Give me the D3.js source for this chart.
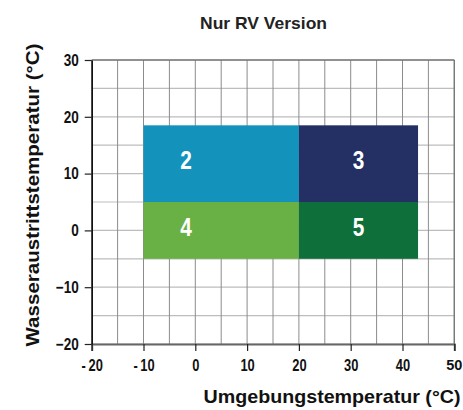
<!DOCTYPE html>
<html>
<head>
<meta charset="utf-8">
<script src="https://cdn.jsdelivr.net/npm/d3@7"></script>
<style>
  body { margin: 0; background: #fff; }
  text { font-family: "Liberation Sans", Arial, sans-serif; }
</style>
</head>
<body>
<div id="chart"></div>
<script>
var width = 463, height = 410;

// zones: x range, y range (°C)
var zoneLabels = ["2", "3", "4", "5"];
var zoneX0 = [-10, 20, -10, 20];
var zoneX1 = [20, 43, 20, 43];
var zoneY0 = [5, 5, -5, -5];
var zoneY1 = [18.5, 18.5, 5, 5];
var zoneColors = ["#1393bb", "#243063", "#69b045", "#0f6f3a"];
// where the zone numbers sit (°C)
var labelX = [-1.8, 31.5, -1.8, 31.5];
var labelY = [12.5, 12.5, 0.7, 0.7];

var xTicks = [-20, -10, 0, 10, 20, 30, 40, 50];
var yTicks = [-20, -10, 0, 10, 20, 30];
var xGrid = d3.range(-20, 51, 5);
var yGrid = d3.range(-20, 31, 5);

var svg = d3.select("#chart").append("svg").attr("width", width).attr("height", height);

var x = d3.scaleLinear().domain([-20, 50]).range([91.7, 454.3]);
var y = d3.scaleLinear().domain([-20, 30]).range([344, 60]);

// squeeze text horizontally (narrow font look)
function condense(sel, f) {
  sel.each(function(){
    var L = this.getComputedTextLength();
    d3.select(this).attr("textLength", L * f).attr("lengthAdjust", "spacingAndGlyphs");
  });
}

// grid
svg.selectAll("line.hg").data(yGrid).enter().append("line")
   .attr("x1", x(-20)).attr("x2", x(50))
   .attr("y1", function(d){ return y(d); }).attr("y2", function(d){ return y(d); })
   .attr("stroke", "#bdbdbd").attr("stroke-width", 1.2);
svg.selectAll("line.vg").data(xGrid).enter().append("line")
   .attr("y1", y(-20)).attr("y2", y(30))
   .attr("x1", function(d){ return x(d); }).attr("x2", function(d){ return x(d); })
   .attr("stroke", "#8c8c8c").attr("stroke-width", 1);

// zones
var zones = zoneLabels.map(function(l, i){
  return { label: l, x0: zoneX0[i], x1: zoneX1[i], y0: zoneY0[i], y1: zoneY1[i],
           lx: labelX[i], ly: labelY[i], c: zoneColors[i] };
});
svg.selectAll("rect.zone").data(zones).enter().append("rect")
   .attr("x", function(d){ return x(d.x0); })
   .attr("y", function(d){ return y(d.y1); })
   .attr("width", function(d){ return x(d.x1) - x(d.x0); })
   .attr("height", function(d){ return y(d.y0) - y(d.y1); })
   .attr("fill", function(d){ return d.c; });
svg.selectAll("text.zone").data(zones).enter().append("text")
   .attr("x", function(d){ return x(d.lx); })
   .attr("y", function(d){ return y(d.ly) + 9.5; })
   .attr("text-anchor", "middle")
   .attr("fill", "#fff").attr("font-size", 26).attr("font-weight", "bold")
   .text(function(d){ return d.label; })
   .call(condense, 0.8);

// frame
svg.append("line").attr("x1", x(-20)).attr("x2", x(50)).attr("y1", y(30)).attr("y2", y(30))
   .attr("stroke", "#777").attr("stroke-width", 1.3);
svg.append("line").attr("x1", x(50)).attr("x2", x(50)).attr("y1", y(30)).attr("y2", y(-20))
   .attr("stroke", "#777").attr("stroke-width", 1.3);

// axes
var xAxis = svg.append("g").attr("transform", "translate(0," + y(-20) + ")")
   .call(d3.axisBottom(x).tickValues(xTicks).tickSize(7).tickPadding(8)
     .tickFormat(function(d){ return d < 0 ? "-\u2009" + Math.abs(d) : d; }));
xAxis.select(".domain").attr("stroke", "#666").attr("stroke-width", 2);
xAxis.selectAll(".tick line").attr("stroke", "#222").attr("stroke-width", 1.2);
xAxis.selectAll("text").attr("font-size", 16.5).attr("font-weight", "bold").attr("fill", "#111")
   .style("font-family", "'Liberation Sans', sans-serif")
   .filter(function(d){ return d !== 50; }).call(condense, 0.78);
// last label sits against the page edge
xAxis.selectAll(".tick text").filter(function(d){ return d === 50; })
   .attr("font-size", 14.5).attr("text-anchor", "end").attr("x", 7.5).attr("dy", "0.78em");

var yAxis = svg.append("g").attr("transform", "translate(" + x(-20) + ",0)")
   .call(d3.axisLeft(y).tickValues(yTicks).tickSize(7).tickPadding(6).tickSizeOuter(0));
yAxis.select(".domain").attr("stroke", "#111").attr("stroke-width", 1.6);
yAxis.selectAll(".tick line").attr("stroke", "#222").attr("stroke-width", 1.2);
yAxis.selectAll("text").attr("font-size", 16.5).attr("font-weight", "bold").attr("fill", "#111")
   .style("font-family", "'Liberation Sans', sans-serif").call(condense, 0.82);

// titles
svg.append("text").attr("x", 263.5).attr("y", 29).attr("text-anchor", "middle")
   .attr("font-size", 17).attr("font-weight", "bold").attr("fill", "#222")
   .attr("textLength", 127).attr("lengthAdjust", "spacingAndGlyphs")
   .text("Nur RV Version");
svg.append("text").attr("x", 332).attr("y", 403).attr("text-anchor", "middle")
   .attr("font-size", 19).attr("font-weight", "bold").attr("fill", "#111")
   .attr("textLength", 257).attr("lengthAdjust", "spacingAndGlyphs")
   .text("Umgebungstemperatur (°C)");
svg.append("text").attr("transform", "translate(39,195) rotate(-90)").attr("text-anchor", "middle")
   .attr("font-size", 19).attr("font-weight", "bold").attr("fill", "#111")
   .attr("textLength", 303).attr("lengthAdjust", "spacingAndGlyphs")
   .text("Wasseraustrittstemperatur (°C)");
</script>
</body>
</html>
